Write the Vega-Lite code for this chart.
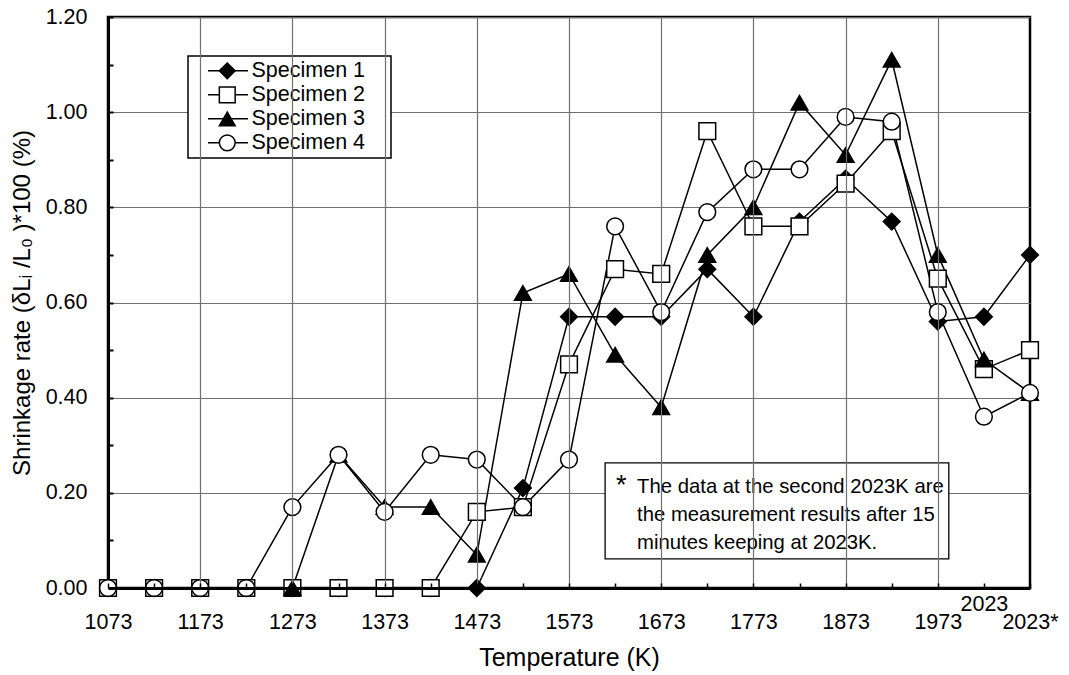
{
  "$schema": "https://vega.github.io/schema/vega-lite/v6.json",
  "width": 922,
  "height": 571,
  "autosize": {"type": "none"},
  "padding": {"left": 108, "top": 17, "right": 39, "bottom": 87},
  "background": "white",
  "config": {
    "font": "Liberation Sans",
    "view": {"stroke": "black", "strokeWidth": 2.5},
    "axis": {
      "domainColor": "black", "domainWidth": 3, "tickColor": "black",
      "labelColor": "black", "titleColor": "black", "gridColor": "#707070", "gridWidth": 1.2,
      "labelFont": "Liberation Sans", "titleFont": "Liberation Sans", "titleFontWeight": "normal"
    }
  },
  "datasets": {
    "shrinkage": [
      {"temperature": "1073", "specimen": "Specimen 1", "rate": 0},
      {"temperature": "1123", "specimen": "Specimen 1", "rate": 0},
      {"temperature": "1173", "specimen": "Specimen 1", "rate": 0},
      {"temperature": "1223", "specimen": "Specimen 1", "rate": 0},
      {"temperature": "1273", "specimen": "Specimen 1", "rate": 0},
      {"temperature": "1323", "specimen": "Specimen 1", "rate": 0},
      {"temperature": "1373", "specimen": "Specimen 1", "rate": 0},
      {"temperature": "1423", "specimen": "Specimen 1", "rate": 0},
      {"temperature": "1473", "specimen": "Specimen 1", "rate": 0},
      {"temperature": "1523", "specimen": "Specimen 1", "rate": 0.21},
      {"temperature": "1573", "specimen": "Specimen 1", "rate": 0.57},
      {"temperature": "1623", "specimen": "Specimen 1", "rate": 0.57},
      {"temperature": "1673", "specimen": "Specimen 1", "rate": 0.57},
      {"temperature": "1723", "specimen": "Specimen 1", "rate": 0.67},
      {"temperature": "1773", "specimen": "Specimen 1", "rate": 0.57},
      {"temperature": "1823", "specimen": "Specimen 1", "rate": 0.77},
      {"temperature": "1873", "specimen": "Specimen 1", "rate": 0.86},
      {"temperature": "1923", "specimen": "Specimen 1", "rate": 0.77},
      {"temperature": "1973", "specimen": "Specimen 1", "rate": 0.56},
      {"temperature": "2023", "specimen": "Specimen 1", "rate": 0.57},
      {"temperature": "2023*", "specimen": "Specimen 1", "rate": 0.70},
      {"temperature": "1073", "specimen": "Specimen 2", "rate": 0},
      {"temperature": "1123", "specimen": "Specimen 2", "rate": 0},
      {"temperature": "1173", "specimen": "Specimen 2", "rate": 0},
      {"temperature": "1223", "specimen": "Specimen 2", "rate": 0},
      {"temperature": "1273", "specimen": "Specimen 2", "rate": 0},
      {"temperature": "1323", "specimen": "Specimen 2", "rate": 0},
      {"temperature": "1373", "specimen": "Specimen 2", "rate": 0},
      {"temperature": "1423", "specimen": "Specimen 2", "rate": 0},
      {"temperature": "1473", "specimen": "Specimen 2", "rate": 0.16},
      {"temperature": "1523", "specimen": "Specimen 2", "rate": 0.17},
      {"temperature": "1573", "specimen": "Specimen 2", "rate": 0.47},
      {"temperature": "1623", "specimen": "Specimen 2", "rate": 0.67},
      {"temperature": "1673", "specimen": "Specimen 2", "rate": 0.66},
      {"temperature": "1723", "specimen": "Specimen 2", "rate": 0.96},
      {"temperature": "1773", "specimen": "Specimen 2", "rate": 0.76},
      {"temperature": "1823", "specimen": "Specimen 2", "rate": 0.76},
      {"temperature": "1873", "specimen": "Specimen 2", "rate": 0.85},
      {"temperature": "1923", "specimen": "Specimen 2", "rate": 0.96},
      {"temperature": "1973", "specimen": "Specimen 2", "rate": 0.65},
      {"temperature": "2023", "specimen": "Specimen 2", "rate": 0.46},
      {"temperature": "2023*", "specimen": "Specimen 2", "rate": 0.50},
      {"temperature": "1273", "specimen": "Specimen 3", "rate": 0},
      {"temperature": "1323", "specimen": "Specimen 3", "rate": 0.28},
      {"temperature": "1373", "specimen": "Specimen 3", "rate": 0.17},
      {"temperature": "1423", "specimen": "Specimen 3", "rate": 0.17},
      {"temperature": "1473", "specimen": "Specimen 3", "rate": 0.07},
      {"temperature": "1523", "specimen": "Specimen 3", "rate": 0.62},
      {"temperature": "1573", "specimen": "Specimen 3", "rate": 0.66},
      {"temperature": "1623", "specimen": "Specimen 3", "rate": 0.49},
      {"temperature": "1673", "specimen": "Specimen 3", "rate": 0.38},
      {"temperature": "1723", "specimen": "Specimen 3", "rate": 0.70},
      {"temperature": "1773", "specimen": "Specimen 3", "rate": 0.80},
      {"temperature": "1823", "specimen": "Specimen 3", "rate": 1.02},
      {"temperature": "1873", "specimen": "Specimen 3", "rate": 0.91},
      {"temperature": "1923", "specimen": "Specimen 3", "rate": 1.11},
      {"temperature": "1973", "specimen": "Specimen 3", "rate": 0.70},
      {"temperature": "2023", "specimen": "Specimen 3", "rate": 0.48},
      {"temperature": "2023*", "specimen": "Specimen 3", "rate": 0.41},
      {"temperature": "1073", "specimen": "Specimen 4", "rate": 0},
      {"temperature": "1123", "specimen": "Specimen 4", "rate": 0},
      {"temperature": "1173", "specimen": "Specimen 4", "rate": 0},
      {"temperature": "1223", "specimen": "Specimen 4", "rate": 0},
      {"temperature": "1273", "specimen": "Specimen 4", "rate": 0.17},
      {"temperature": "1323", "specimen": "Specimen 4", "rate": 0.28},
      {"temperature": "1373", "specimen": "Specimen 4", "rate": 0.16},
      {"temperature": "1423", "specimen": "Specimen 4", "rate": 0.28},
      {"temperature": "1473", "specimen": "Specimen 4", "rate": 0.27},
      {"temperature": "1523", "specimen": "Specimen 4", "rate": 0.17},
      {"temperature": "1573", "specimen": "Specimen 4", "rate": 0.27},
      {"temperature": "1623", "specimen": "Specimen 4", "rate": 0.76},
      {"temperature": "1673", "specimen": "Specimen 4", "rate": 0.58},
      {"temperature": "1723", "specimen": "Specimen 4", "rate": 0.79},
      {"temperature": "1773", "specimen": "Specimen 4", "rate": 0.88},
      {"temperature": "1823", "specimen": "Specimen 4", "rate": 0.88},
      {"temperature": "1873", "specimen": "Specimen 4", "rate": 0.99},
      {"temperature": "1923", "specimen": "Specimen 4", "rate": 0.98},
      {"temperature": "1973", "specimen": "Specimen 4", "rate": 0.58},
      {"temperature": "2023", "specimen": "Specimen 4", "rate": 0.36},
      {"temperature": "2023*", "specimen": "Specimen 4", "rate": 0.41}
    ],
    "note": [{"label": "note"}]
  },
  "data": {"name": "shrinkage"},
  "layer": [
    {
      "data": {"name": "note"},
      "mark": {"type": "rect", "fill": "white", "stroke": "black", "strokeWidth": 1.3, "xOffset": -10, "x2Offset": 11},
      "encoding": {
        "x": {"datum": "1623", "type": "ordinal"},
        "x2": {"datum": "1973"},
        "y": {"datum": 0.263, "type": "quantitative"},
        "y2": {"datum": 0.061}
      }
    },
    {
      "data": {"name": "note"},
      "mark": {"type": "text", "text": "*", "font": "Liberation Sans", "fontSize": 27, "align": "left", "baseline": "alphabetic", "dx": 1, "dy": 1, "color": "black"},
      "encoding": {
        "x": {"datum": "1623", "type": "ordinal"},
        "y": {"datum": 0.2, "type": "quantitative"}
      }
    },
    {
      "data": {"name": "note"},
      "mark": {"type": "text", "text": ["The data at the second 2023K are", "the measurement results after 15", "minutes keeping at 2023K."], "font": "Liberation Sans", "fontSize": 20.3, "lineHeight": 28, "align": "left", "baseline": "alphabetic", "dx": 22, "color": "black"},
      "encoding": {
        "x": {"datum": "1623", "type": "ordinal"},
        "y": {"datum": 0.2, "type": "quantitative"}
      }
    },
    {
      "mark": {"type": "line", "strokeWidth": 1.5},
      "encoding": {
        "x": {"field": "temperature", "type": "ordinal"},
        "y": {"field": "rate", "type": "quantitative"},
        "color": {
          "field": "specimen", "type": "nominal",
          "scale": {"range": ["black", "black", "black", "black"]},
          "legend": {
            "title": "\u00a0", "titleOrient": "right", "titlePadding": 134, "titleFontSize": 21,
            "orient": "none", "legendX": 80, "legendY": 39,
            "padding": 3, "strokeColor": "black", "fillColor": "white",
            "labelFont": "Liberation Sans", "labelFontSize": 21.5, "labelExpr": "''",
            "symbolType": "stroke", "symbolSize": 1600, "symbolStrokeWidth": 1.5, "symbolStrokeColor": "black",
            "symbolOffset": 16, "labelOffset": 5, "rowPadding": 0, "clipHeight": 23.7,
            "encode": {"legend": {"update": {"strokeWidth": {"value": 1.5}}}}
          }
        }
      }
    },
    {
      "mark": {"type": "point", "size": 280, "strokeWidth": 1.5, "opacity": 1, "fillOpacity": 1},
      "encoding": {
        "x": {
          "field": "temperature", "type": "ordinal",
          "scale": {"type": "point", "padding": 0, "domain": ["1073","1123","1173","1223","1273","1323","1373","1423","1473","1523","1573","1623","1673","1723","1773","1823","1873","1923","1973","2023","2023*"]},
          "axis": {
            "title": "Temperature (K)", "titleFontSize": 25, "titlePadding": 13,
            "labelAngle": 0, "labelAlign": "center", "labelBaseline": "top", "labelFontSize": 21.5, "labelOverlap": false,
            "labelExpr": "indexof(['1073','1173','1273','1373','1473','1573','1673','1773','1873','1973','2023','2023*'], datum.value) >= 0 ? datum.value : ''",
            "labelPadding": {"condition": {"test": "datum.value === '2023'", "value": 10.4}, "value": 28.4},
            "tickSize": -5, "tickWidth": 1.5,
            "grid": true,
            "gridOpacity": {"condition": {"test": "indexof(['1173','1273','1373','1473','1573','1673','1773','1873','1973'], datum.value) >= 0", "value": 1}, "value": 0}
          }
        },
        "y": {
          "field": "rate", "type": "quantitative",
          "scale": {"domain": [0, 1.2], "nice": false},
          "axis": {
            "title": "Shrinkage rate (δLᵢ /L₀ )*100 (%)", "titleFontSize": 24, "titlePadding": 11,
            "values": [0, 0.1, 0.2, 0.3, 0.4, 0.5, 0.6, 0.7, 0.8, 0.9, 1.0, 1.1, 1.2],
            "labelExpr": "round(datum.value*10) % 2 == 0 ? format(datum.value, '.2f') : ''",
            "labelFontSize": 21.5, "labelPadding": 26,
            "tickSize": -5, "tickWidth": 2,
            "grid": true,
            "gridOpacity": {"condition": {"test": "round(datum.value*10) % 2 == 1", "value": 0}, "value": 1}
          }
        },
        "shape": {
          "field": "specimen", "type": "nominal",
          "scale": {"domain": ["Specimen 1", "Specimen 2", "Specimen 3", "Specimen 4"], "range": ["diamond", "square", "triangle-up", "circle"]},
          "legend": {
            "title": null, "orient": "none", "legendX": 80, "legendY": 39,
            "padding": 3, "fillColor": "transparent",
            "labelFont": "Liberation Sans", "labelFontSize": 21.5, "labelColor": "black",
            "symbolSize": 250, "symbolStrokeColor": "black", "symbolStrokeWidth": 1.5,
            "symbolOffset": 25.5, "labelOffset": 13.5, "rowPadding": 0, "clipHeight": 23.7
          }
        },
        "fill": {
          "field": "specimen", "type": "nominal",
          "scale": {"domain": ["Specimen 1", "Specimen 2", "Specimen 3", "Specimen 4"], "range": ["black", "white", "black", "white"]},
          "legend": {
            "title": null, "orient": "none", "legendX": 80, "legendY": 39,
            "padding": 3, "fillColor": "transparent",
            "labelFont": "Liberation Sans", "labelFontSize": 21.5, "labelColor": "black",
            "symbolSize": 250, "symbolStrokeColor": "black", "symbolStrokeWidth": 1.5,
            "symbolOffset": 25.5, "labelOffset": 13.5, "rowPadding": 0, "clipHeight": 23.7
          }
        },
        "stroke": {
          "field": "specimen", "type": "nominal",
          "scale": {"domain": ["Specimen 1", "Specimen 2", "Specimen 3", "Specimen 4"], "range": ["black", "black", "black", "black"]},
          "legend": {
            "title": null, "orient": "none", "legendX": 80, "legendY": 39,
            "padding": 3, "fillColor": "transparent",
            "labelFont": "Liberation Sans", "labelFontSize": 21.5, "labelColor": "black",
            "symbolSize": 250, "symbolStrokeColor": "black", "symbolStrokeWidth": 1.5,
            "symbolOffset": 25.5, "labelOffset": 13.5, "rowPadding": 0, "clipHeight": 23.7
          }
        }
      }
    }
  ]
}
